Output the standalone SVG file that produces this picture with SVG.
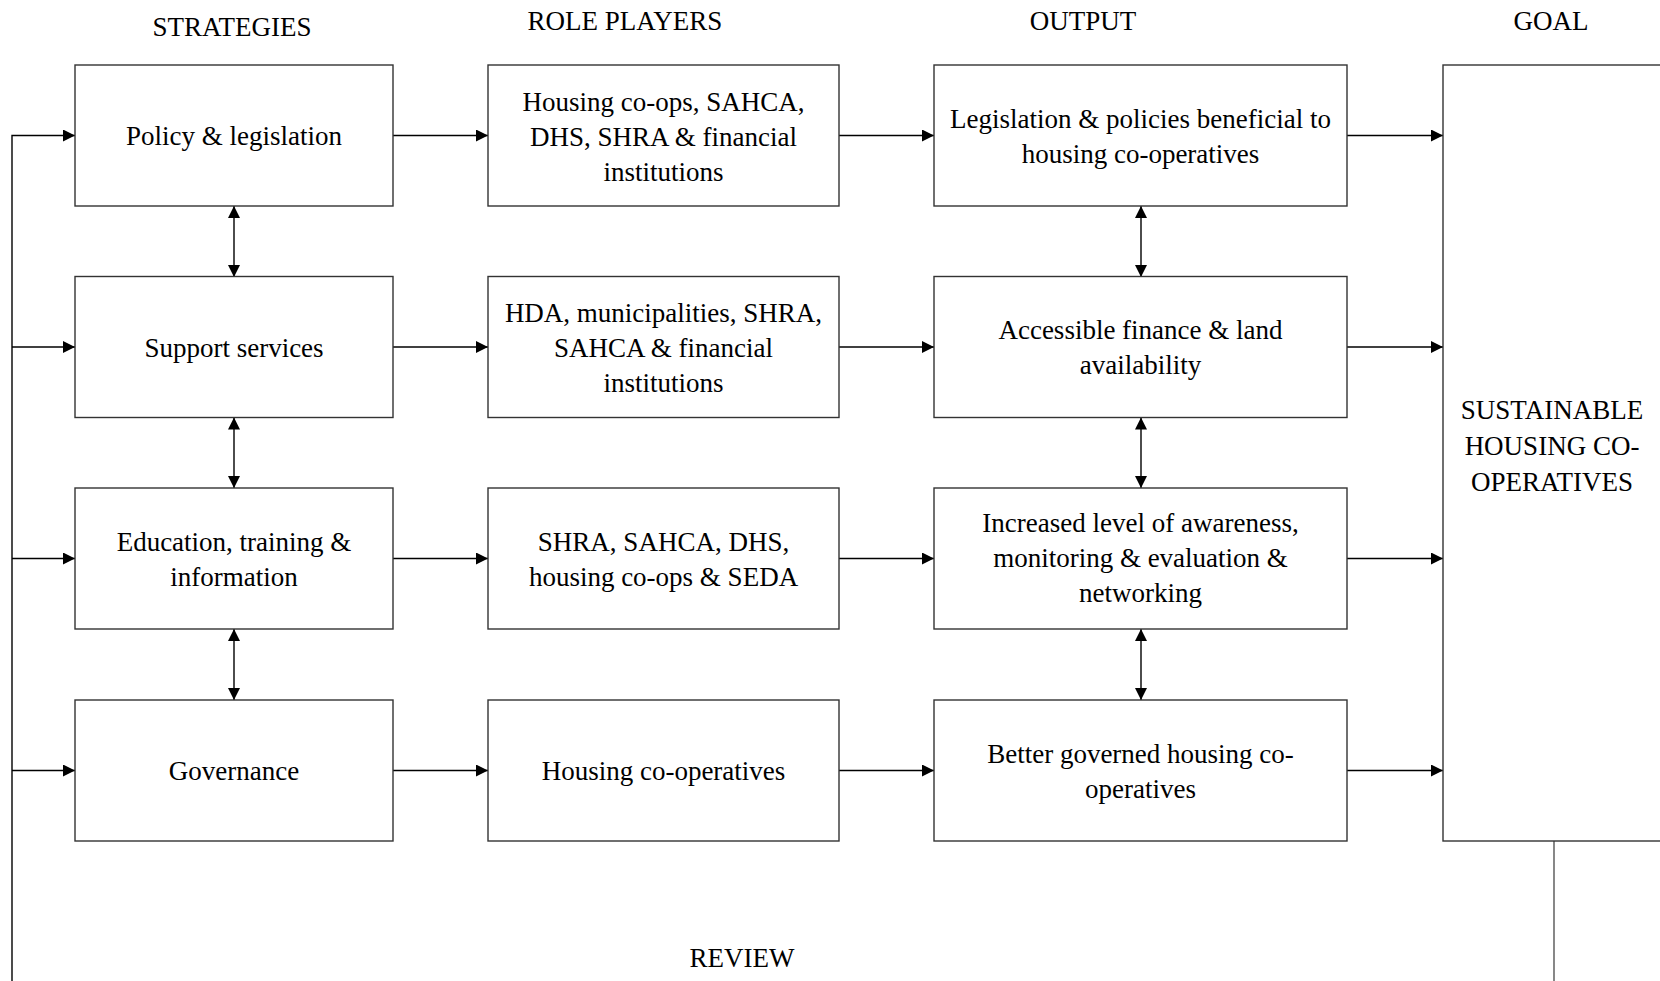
<svg xmlns="http://www.w3.org/2000/svg" width="1660" height="981" viewBox="0 0 1660 981">
<style>
.box{fill:#fff;stroke:#333;stroke-width:1.4}
.t{font-family:"Liberation Serif","Times New Roman",serif;font-size:27px;fill:#000;text-anchor:middle}
.c{fill:none;stroke:#000;stroke-width:1.4}
.r{fill:none;stroke:#555;stroke-width:1.4}
</style>
<defs>
<marker id="ah" markerUnits="userSpaceOnUse" markerWidth="12" markerHeight="12" refX="12" refY="6" orient="auto-start-reverse" viewBox="0 0 12 12">
<path d="M0,0 L12,6 L0,12 z" fill="#000"/>
</marker>
</defs>
<rect width="1660" height="981" fill="#fff"/>
<g id="headers">
<text class="t" x="232" y="35.5">STRATEGIES</text>
<text class="t" x="625" y="29.5">ROLE PLAYERS</text>
<text class="t" x="1083" y="29.5">OUTPUT</text>
<text class="t" x="1551" y="29.5">GOAL</text>
<text class="t" x="742" y="967">REVIEW</text>
</g>
<g id="connectors">
<path class="c" d="M12,981 L12,135.5 L75,135.5" marker-end="url(#ah)"/>
<path class="c" d="M12,347 L75,347" marker-end="url(#ah)"/>
<path class="c" d="M12,558.5 L75,558.5" marker-end="url(#ah)"/>
<path class="c" d="M12,770.5 L75,770.5" marker-end="url(#ah)"/>
<path class="c" d="M393,135.5 L488,135.5" marker-end="url(#ah)"/>
<path class="c" d="M393,347 L488,347" marker-end="url(#ah)"/>
<path class="c" d="M393,558.5 L488,558.5" marker-end="url(#ah)"/>
<path class="c" d="M393,770.5 L488,770.5" marker-end="url(#ah)"/>
<path class="c" d="M839,135.5 L934,135.5" marker-end="url(#ah)"/>
<path class="c" d="M839,347 L934,347" marker-end="url(#ah)"/>
<path class="c" d="M839,558.5 L934,558.5" marker-end="url(#ah)"/>
<path class="c" d="M839,770.5 L934,770.5" marker-end="url(#ah)"/>
<path class="c" d="M1347,135.5 L1443,135.5" marker-end="url(#ah)"/>
<path class="c" d="M1347,347 L1443,347" marker-end="url(#ah)"/>
<path class="c" d="M1347,558.5 L1443,558.5" marker-end="url(#ah)"/>
<path class="c" d="M1347,770.5 L1443,770.5" marker-end="url(#ah)"/>
<path class="c" d="M234,206 L234,277" marker-start="url(#ah)" marker-end="url(#ah)"/>
<path class="c" d="M234,417.5 L234,488" marker-start="url(#ah)" marker-end="url(#ah)"/>
<path class="c" d="M234,629 L234,700" marker-start="url(#ah)" marker-end="url(#ah)"/>
<path class="c" d="M1141,206 L1141,277" marker-start="url(#ah)" marker-end="url(#ah)"/>
<path class="c" d="M1141,417.5 L1141,488" marker-start="url(#ah)" marker-end="url(#ah)"/>
<path class="c" d="M1141,629 L1141,700" marker-start="url(#ah)" marker-end="url(#ah)"/>
<path class="r" d="M1554,841 L1554,981"/>
</g>
<g id="policy">
<rect class="box" x="75" y="65" width="318" height="141"/>
<text class="t" x="234" y="145">Policy &amp; legislation</text>
</g>
<g id="support">
<rect class="box" x="75" y="276.5" width="318" height="141"/>
<text class="t" x="234" y="356.5">Support services</text>
</g>
<g id="education">
<rect class="box" x="75" y="488" width="318" height="141"/>
<text class="t" x="234" y="550.5">Education, training &amp;</text>
<text class="t" x="234" y="585.5">information</text>
</g>
<g id="governance">
<rect class="box" x="75" y="700" width="318" height="141"/>
<text class="t" x="234" y="780">Governance</text>
</g>
<g id="rp1">
<rect class="box" x="488" y="65" width="351" height="141"/>
<text class="t" x="663.5" y="110.5">Housing co-ops, SAHCA,</text>
<text class="t" x="663.5" y="145.5">DHS, SHRA &amp; financial</text>
<text class="t" x="663.5" y="180.5">institutions</text>
</g>
<g id="rp2">
<rect class="box" x="488" y="276.5" width="351" height="141"/>
<text class="t" x="663.5" y="321.5">HDA, municipalities, SHRA,</text>
<text class="t" x="663.5" y="356.5">SAHCA &amp; financial</text>
<text class="t" x="663.5" y="391.5">institutions</text>
</g>
<g id="rp3">
<rect class="box" x="488" y="488" width="351" height="141"/>
<text class="t" x="663.5" y="550.5">SHRA, SAHCA, DHS,</text>
<text class="t" x="663.5" y="585.5">housing co-ops &amp; SEDA</text>
</g>
<g id="rp4">
<rect class="box" x="488" y="700" width="351" height="141"/>
<text class="t" x="663.5" y="780">Housing co-operatives</text>
</g>
<g id="out1">
<rect class="box" x="934" y="65" width="413" height="141"/>
<text class="t" x="1140.5" y="127.5">Legislation &amp; policies beneficial to</text>
<text class="t" x="1140.5" y="162.5">housing co-operatives</text>
</g>
<g id="out2">
<rect class="box" x="934" y="276.5" width="413" height="141"/>
<text class="t" x="1140.5" y="339">Accessible finance &amp; land</text>
<text class="t" x="1140.5" y="374">availability</text>
</g>
<g id="out3">
<rect class="box" x="934" y="488" width="413" height="141"/>
<text class="t" x="1140.5" y="532">Increased level of awareness,</text>
<text class="t" x="1140.5" y="567">monitoring &amp; evaluation &amp;</text>
<text class="t" x="1140.5" y="602">networking</text>
</g>
<g id="out4">
<rect class="box" x="934" y="700" width="413" height="141"/>
<text class="t" x="1140.5" y="762.5">Better governed housing co-</text>
<text class="t" x="1140.5" y="797.5">operatives</text>
</g>
<g id="goal">
<rect class="box" x="1443" y="65" width="230" height="776"/>
<text class="t" x="1552" y="418.5">SUSTAINABLE</text>
<text class="t" x="1552" y="454.5">HOUSING CO-</text>
<text class="t" x="1552" y="490.5">OPERATIVES</text>
</g>
</svg>
